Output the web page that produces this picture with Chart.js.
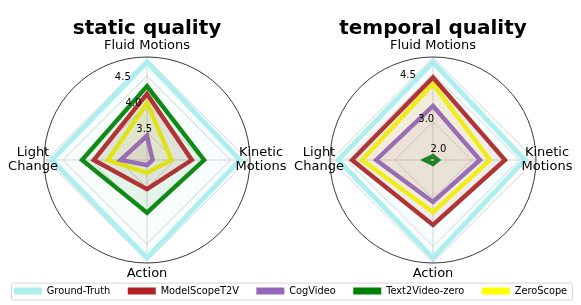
<!DOCTYPE html>
<html><head><meta charset="utf-8">
<script src="https://cdn.jsdelivr.net/npm/chart.js@4.4.1/dist/chart.umd.min.js"></script>
<style>
html,body{margin:0;padding:0;background:#fff;overflow:hidden;}
#wrap{position:relative;width:581px;height:305px;overflow:hidden;background:#fff;}
#c1{position:absolute;left:-20px;top:0;}
#c2{position:absolute;left:0;top:0;}
</style></head><body>
<div id="wrap">
<canvas id="c1" width="621" height="306"></canvas>
<canvas id="c2" width="581" height="305"></canvas>
</div>
<script>
// axes (clockwise from top): Fluid Motions, Kinetic Motions, Action, Light Change
const categories = [['Fluid Motions'], ['Kinetic', 'Motions'], ['Action'], ['Light', 'Change']];
const seriesNames = ['Ground-Truth', 'ModelScopeT2V', 'CogVideo', 'Text2Video-zero', 'ZeroScope'];
const seriesColors = ['#AFEEEE', '#B22222', '#9467BD', '#008000', '#FFFF00'];

const staticGroundTruth   = [4.75, 4.66, 4.75, 4.70];
const staticModelScope    = [4.18, 3.80, 3.52, 3.95];
const staticCogVideo      = [3.43, 3.10, 3.09, 3.47];
const staticText2VideoZero= [4.32, 4.02, 3.94, 4.16];
const staticZeroScope     = [4.02, 3.44, 3.23, 3.70];

const temporalGroundTruth   = [4.86, 4.67, 4.86, 4.77];
const temporalModelScope    = [4.38, 4.05, 3.83, 4.33];
const temporalCogVideo      = [3.49, 3.27, 3.11, 3.58];
const temporalText2VideoZero= [1.92, 1.95, 1.92, 2.05];
const temporalZeroScope     = [4.18, 3.58, 3.43, 4.02];

const staticTickLabels   = [3.5, 4.0, 4.5];
const temporalTickLabels = [2.0, 3.0, 4.5];
const staticRange   = [3.0, 4.84];
const temporalRange = [1.8, 5.02];

Chart.defaults.font.family = '"DejaVu Sans", sans-serif';

function rgba(hex, a) {
  const n = parseInt(hex.slice(1), 16);
  return 'rgba(' + ((n >> 16) & 255) + ',' + ((n >> 8) & 255) + ',' + (n & 255) + ',' + a + ')';
}

function makeDatasets(series) {
  return series.map((vals, i) => ({
    label: seriesNames[i],
    data: vals,
    borderColor: seriesColors[i],
    backgroundColor: rgba(seriesColors[i], 0.085),
    borderWidth: i === 0 ? 5 : 4.4,
    borderJoinStyle: 'miter',
    fill: true,
    pointRadius: 0,
    pointHoverRadius: 0,
    clip: false
  }));
}

const deco = {
  id: 'deco',
  beforeDatasetsDraw(chart, args, opts) {
    const s = chart.scales.r, ctx = chart.ctx;
    ctx.save();
    ctx.beginPath();
    ctx.arc(s.xCenter, s.yCenter, s.drawingArea, 0, Math.PI * 2);
    ctx.strokeStyle = '#222';
    ctx.lineWidth = 0.9;
    ctx.stroke();
    ctx.restore();
  },
  afterDraw(chart, args, opts) {
    const s = chart.scales.r, ctx = chart.ctx;
    ctx.save();
    ctx.fillStyle = '#000';
    ctx.textAlign = 'center';
    ctx.textBaseline = 'middle';
    ctx.font = 'bold 20px "DejaVu Sans"';
    ctx.fillText(opts.title, s.xCenter, opts.titleY);
    ctx.font = '13px "DejaVu Sans"';
    chart.data.labels.forEach((lab, i) => {
      const p = s.getPointPosition(i, s.drawingArea + 11);
      const lines = Array.isArray(lab) ? lab : [lab];
      const lh = 14;
      lines.forEach((t, j) => ctx.fillText(t, p.x, p.y + (j - (lines.length - 1) / 2) * lh));
    });
    ctx.font = '10px "DejaVu Sans"';
    ctx.textAlign = 'left';
    const a = 22.5 * Math.PI / 180;
    opts.tickLabels.forEach(v => {
      const r = s.getDistanceFromCenterForValue(v);
      ctx.fillText(v.toFixed(1), s.xCenter - r * Math.sin(a), s.yCenter - r * Math.cos(a) - 5);
    });
    ctx.restore();
  }
};

const legendFrame = {
  id: 'legendFrame',
  beforeDraw(chart) {
    const lg = chart.legend;
    if (!lg || !lg.legendHitBoxes || !lg.legendHitBoxes.length) return;
    const hb = lg.legendHitBoxes;
    const last = hb[hb.length - 1];
    const x0 = hb[0].left - 3, x1 = last.left + last.width + 5;
    const yc = hb[0].top + hb[0].height / 2;
    const ctx = chart.ctx;
    ctx.save();
    ctx.beginPath();
    ctx.roundRect(x0 + 0.5, yc - 8.5 + 0.5, x1 - x0, 17, 2);
    ctx.fillStyle = '#fff';
    ctx.fill();
    ctx.strokeStyle = '#d5d5d5';
    ctx.lineWidth = 1;
    ctx.stroke();
    ctx.restore();
  }
};

function radarOptions(range, gridVals, cx, cy, rad, title, tickLabels, showLegend) {
  return {
    responsive: false,
    animation: false,
    events: [],
    layout: { padding: 0 },
    scales: {
      r: {
        min: range[0],
        max: range[1],
        startAngle: 0,
        pointLabels: { display: false },
        ticks: { display: false },
        grid: { color: '#c8c8c8', lineWidth: 0.8, circular: false },
        angleLines: { color: '#c8c8c8', lineWidth: 0.8 },
        afterBuildTicks: (s) => { s.ticks = [range[0]].concat(gridVals).map(v => ({ value: v })); },
        afterFit: (s) => { s.xCenter = cx; s.yCenter = cy; s.drawingArea = rad; }
      }
    },
    plugins: {
      title: { display: false },
      tooltip: { enabled: false },
      deco: { title: title, titleY: 29, tickLabels: tickLabels },
      legend: showLegend ? {
        display: true,
        position: 'bottom',
        labels: {
          boxWidth: 28,
          boxHeight: 7,
          padding: 17.5,
          color: '#111',
          font: { family: '"DejaVu Sans"', size: 9.8 },
          generateLabels: () => seriesNames.map((n, i) => ({
            text: n, fillStyle: seriesColors[i], strokeStyle: seriesColors[i],
            lineWidth: 0, hidden: false, datasetIndex: i
          }))
        }
      } : { display: false }
    }
  };
}

new Chart(document.getElementById('c1'), {
  type: 'radar',
  data: {
    labels: categories,
    datasets: makeDatasets([staticGroundTruth, staticModelScope, staticCogVideo, staticText2VideoZero, staticZeroScope])
  },
  options: radarOptions(staticRange, staticTickLabels.concat([4.8]), 167, 160, 103, 'static quality', staticTickLabels, true),
  plugins: [legendFrame, deco]
});

new Chart(document.getElementById('c2'), {
  type: 'radar',
  data: {
    labels: categories,
    datasets: makeDatasets([temporalGroundTruth, temporalModelScope, temporalCogVideo, temporalText2VideoZero, temporalZeroScope])
  },
  options: radarOptions(temporalRange, temporalTickLabels.concat([5.0]), 433, 160, 103, 'temporal quality', temporalTickLabels, false),
  plugins: [deco]
});
</script>
</body></html>
